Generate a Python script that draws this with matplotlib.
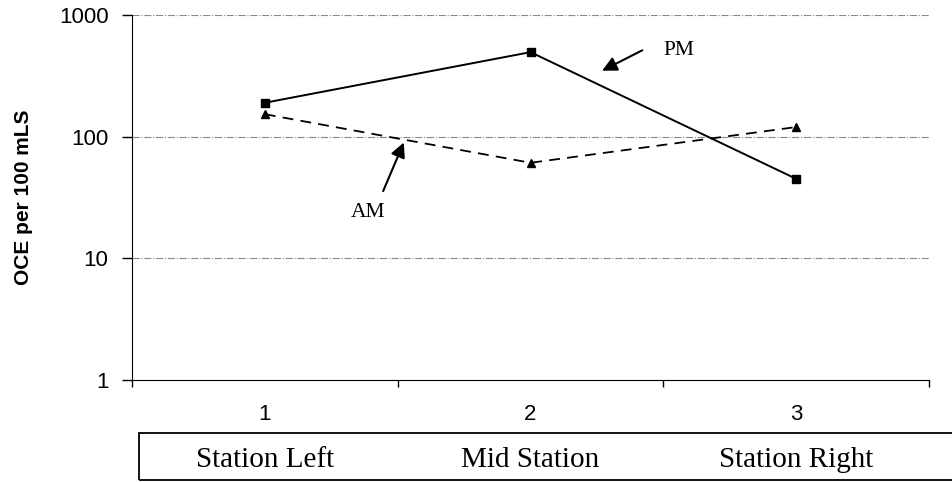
import numpy as np
import matplotlib.pyplot as plt
from matplotlib.patches import Rectangle
from matplotlib.transforms import blended_transform_factory

# values
stations = [1, 2, 3]
station_names = ['Station Left', 'Mid Station', 'Station Right']
pm_counts = [190, 495, 45]
am_counts = [153, 61, 120]

sans = 'Liberation Sans'
serif = 'Liberation Serif'

fig = plt.figure(figsize=(9.52, 4.82), dpi=100)
ax = fig.add_axes([0.1387, 0.2116, 0.8372, 0.7573])

ax.plot(stations, pm_counts, color='black', lw=1.4, ls='-',
        marker='s', markersize=5.5)
ax.plot(stations, am_counts, color='black', lw=1.3, ls=(0, (6, 4)),
        marker='^', markersize=6)

ax.set_yscale('log')
ax.set_ylim(1, 1000)
ax.set_xlim(0.5, 3.5)
ax.set_yticks([1, 10, 100, 1000])
ax.set_yticklabels(['1', '10', '100', '1000'], fontfamily=sans, fontsize=16)
ax.yaxis.set_minor_locator(plt.NullLocator())
ax.tick_params(axis='y', which='major', direction='out', length=7, width=1, pad=10)

ax.set_xticks(stations)
ax.set_xticklabels([str(s) for s in stations], fontfamily=sans, fontsize=16)
ax.tick_params(axis='x', which='major', length=0, pad=17)
ax.set_xticks([0.5, 1.5, 2.5, 3.5], minor=True)
ax.tick_params(axis='x', which='minor', direction='out', length=5, width=1)

for s in ['top', 'right']:
    ax.spines[s].set_visible(False)
ax.grid(axis='y', which='major', color='#888888', ls='-.', lw=0.8)
ax.set_axisbelow(True)

ax.set_ylabel('OCE per 100 mLS', fontfamily=sans, fontweight='bold', fontsize=15)
ax.yaxis.set_label_coords(-0.124, 0.5)

# annotations
arrow = dict(arrowstyle='-|>', color='black', lw=1.5, mutation_scale=22)
ax.annotate('', xy=(2.26, 340), xytext=(2.43, 525), arrowprops=arrow)
ax.text(2.56, 515, 'PM', fontfamily=serif, fontsize=15.5, ha='center', va='center')
ax.annotate('', xy=(1.527, 94), xytext=(1.441, 34), arrowprops=arrow)
ax.text(1.388, 23.6, 'AM', fontfamily=serif, fontsize=15.5, ha='center', va='center')

# station name box under the axis
fig.patches.append(Rectangle((0.146, 0.004), 0.9, 0.0975, transform=fig.transFigure,
                             fill=False, edgecolor='black', lw=1.3))
trans = blended_transform_factory(ax.transData, fig.transFigure)
for s, name in zip(stations, station_names):
    ax.text(s, 0.045, name, transform=trans, fontfamily=serif, fontsize=21,
            ha='center', va='center', clip_on=False)

fig.savefig('out.png', dpi=100)
